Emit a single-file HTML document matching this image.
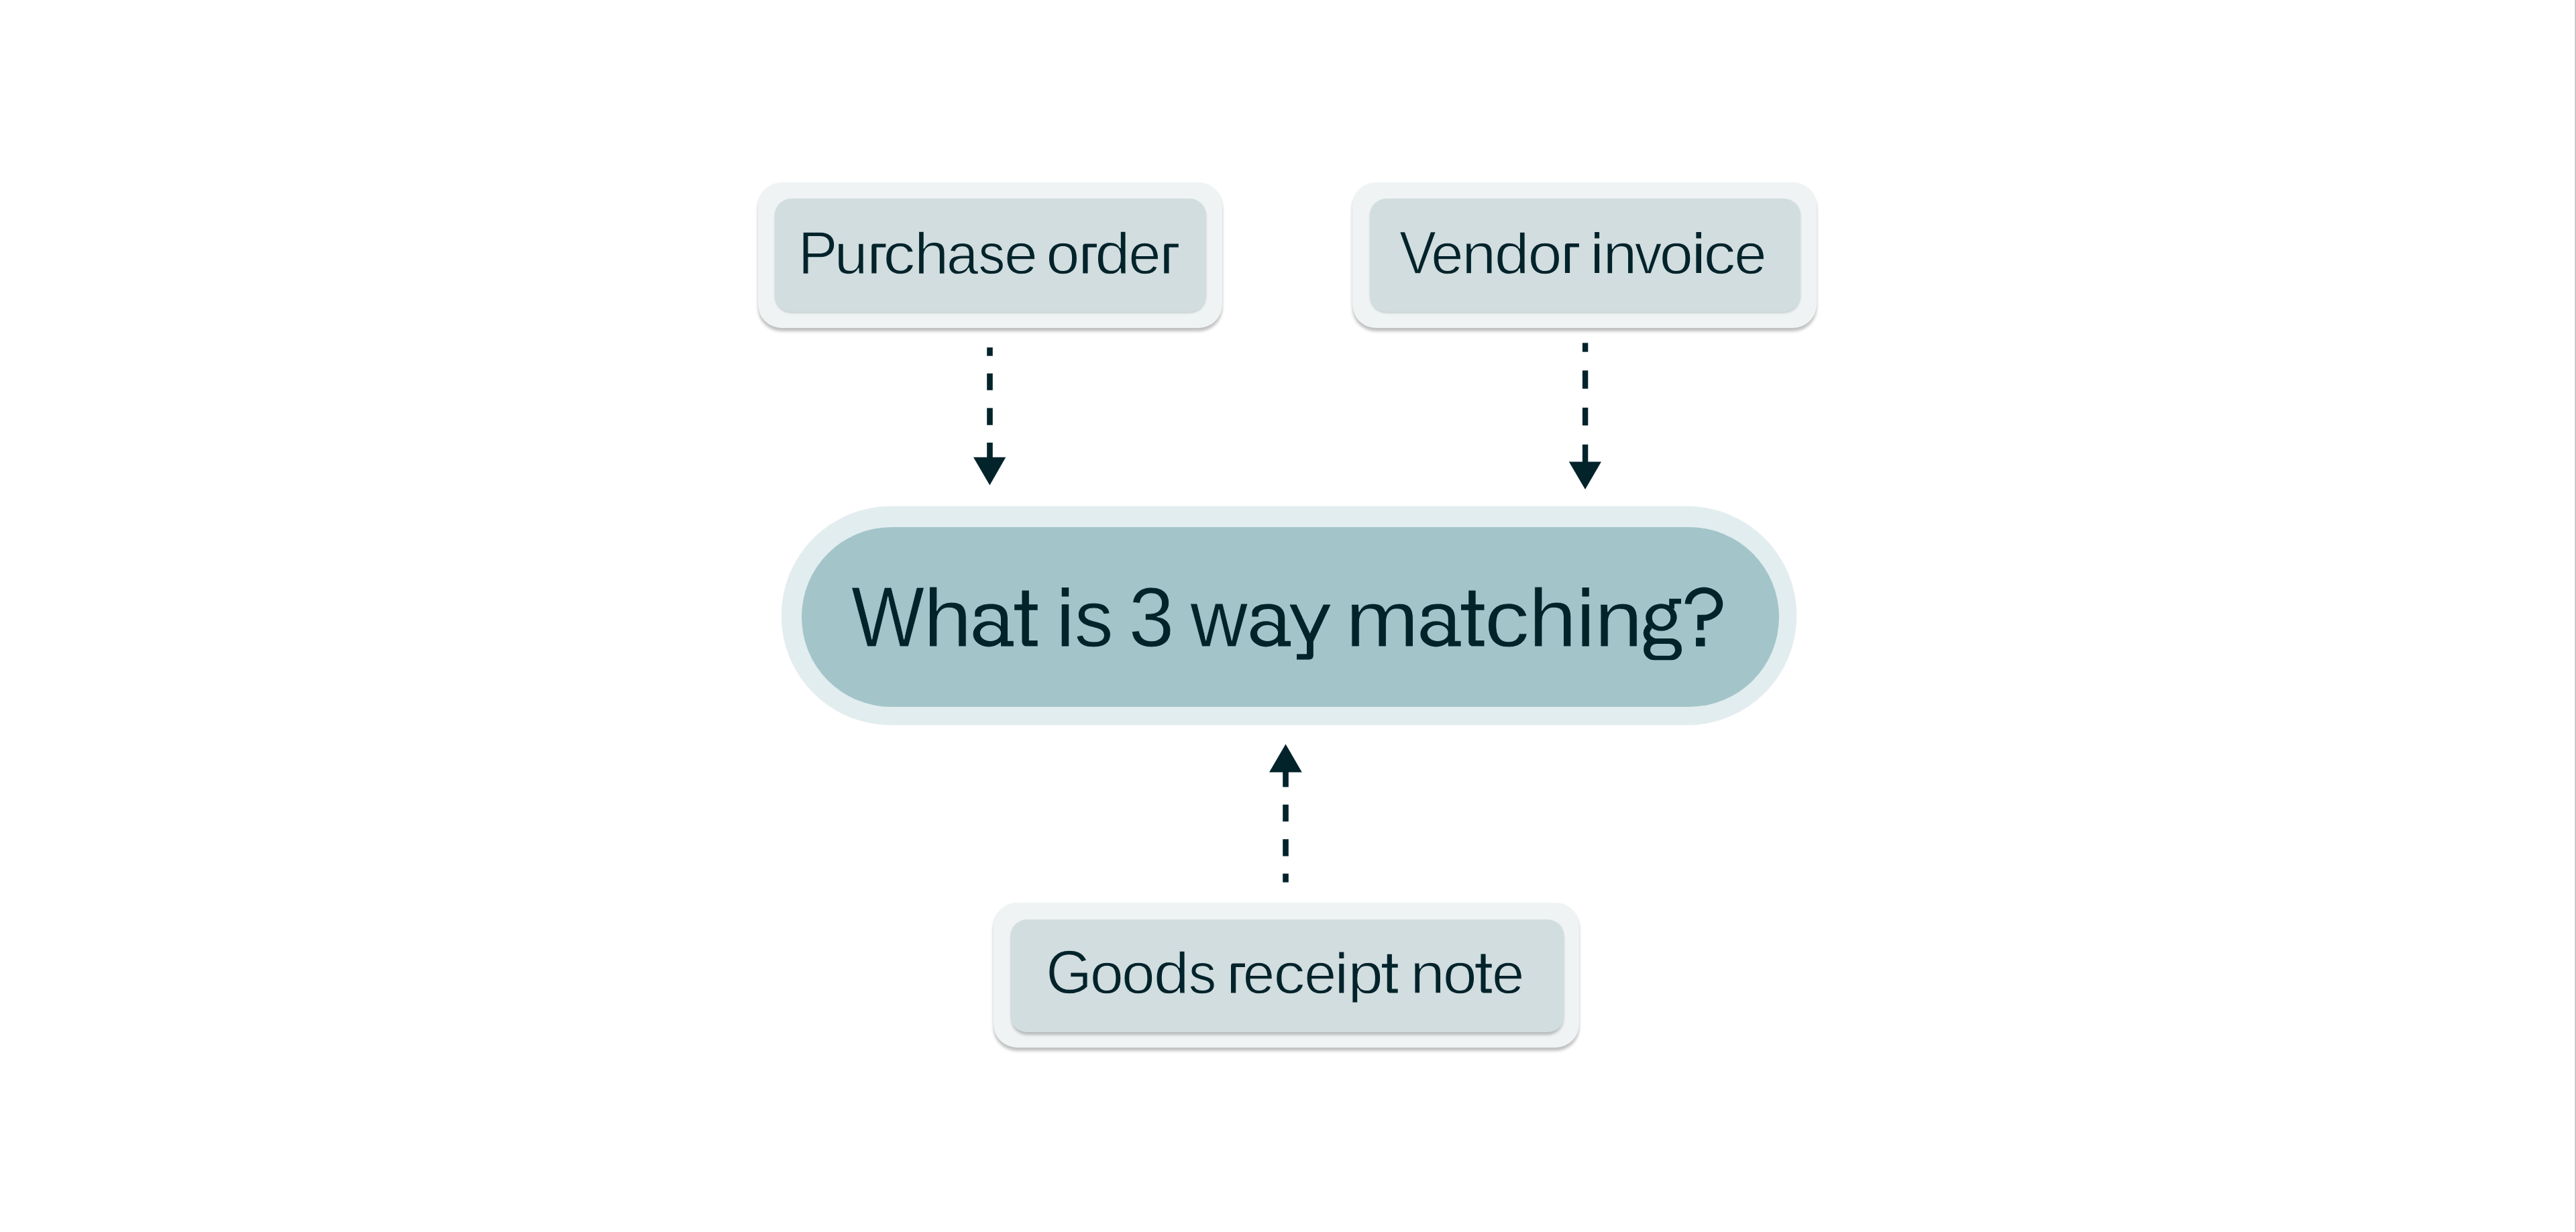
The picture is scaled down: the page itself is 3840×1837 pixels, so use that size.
<!DOCTYPE html>
<html><head><meta charset="utf-8">
<style>
html,body{margin:0;padding:0;background:#fff;}
body{width:3840px;height:1837px;position:relative;overflow:hidden;font-family:"Liberation Sans",sans-serif;}
.abs{position:absolute;}
.box-o{position:absolute;background:#EFF3F4;border-radius:35px;box-shadow:0 5px 4px rgba(0,0,0,0.25),0 0 1px rgba(0,0,0,0.06);}
.box-i{position:absolute;background:#D2DDDF;border-radius:25px;box-shadow:0 2px 3px rgba(0,30,40,0.17);}
.pill-o{position:absolute;background:#E2EDEF;box-shadow:0 0 1.5px rgba(0,0,0,0.10);}
.pill-i{position:absolute;background:#A3C5CA;}
.edge{position:absolute;right:0;top:0;width:2px;height:1837px;background:linear-gradient(to right,#dcdcdc,#b9b9b9);}
</style></head><body>
<div class="box-o" style="left:1130px;top:272px;width:692px;height:217px;"></div>
<div class="box-i" style="left:1155px;top:295.8px;width:643px;height:169.4px;"></div>
<div class="box-o" style="left:2016px;top:272px;width:692px;height:217px;"></div>
<div class="box-i" style="left:2042.2px;top:295.8px;width:641.5px;height:169.4px;"></div>
<div class="pill-o" style="left:1165px;top:755px;width:1512.5px;height:325.7px;border-radius:162.9px;"></div>
<div class="pill-i" style="left:1195px;top:786px;width:1456.5px;height:267.6px;border-radius:133.8px;"></div>
<div class="box-o" style="left:1481px;top:1346px;width:873.4px;height:216.3px;"></div>
<div class="box-i" style="left:1506px;top:1370.7px;width:826px;height:168.2px;box-shadow:0 6px 4px -2px rgba(0,0,0,0.24);"></div>
<svg class="abs" style="left:0;top:0" width="3840" height="1837" viewBox="0 0 3840 1837">
<defs><clipPath id="clip0" clipPathUnits="userSpaceOnUse"><rect x="1996.1" y="1280.5" width="81.2" height="214.1"/></clipPath></defs>
<g font-family="Liberation Sans" fill="#03232B">
<g font-size="120" stroke="#A3C5CA" stroke-width="0.9">
<text transform="translate(1269.07 964.05) scale(0.9626 1.0695)">W</text>
<text transform="translate(1376.59 964.05) scale(1.0821 1.0172)">h</text>
<path d="M1523.47,880.40 H1533.87 V901.20 H1546.70 V909.70 H1533.87 V955.10 H1546.70 V963.60 H1529.97 A6.5,6.5 0 0 1 1523.47,957.10 V909.70 H1512.20 V901.20 H1523.47 Z" stroke="none"/>
<rect x="1582.70" y="876.00" width="10.50" height="13.49" stroke="none"/>
<rect x="1582.70" y="901.14" width="10.50" height="62.46" stroke="none"/>
<text transform="translate(1601.71 964.05) scale(0.9633 1.0009)">s</text>
<text transform="translate(1682.62 964.05) scale(1.0162 1.0530)">3</text>
<text transform="translate(1774.47 964.05) scale(0.9828 1.0069)">w</text>
<text transform="translate(2005.79 964.05) scale(1.0937 0.9960)">m</text>
<path d="M2189.27,880.40 H2199.67 V901.20 H2212.50 V909.70 H2199.67 V955.10 H2212.50 V963.60 H2195.77 A6.5,6.5 0 0 1 2189.27,957.10 V909.70 H2178.00 V901.20 H2189.27 Z" stroke="none"/>
<text transform="translate(2212.81 964.05) scale(1.1188 0.9960)">c</text>
<text transform="translate(2278.69 964.05) scale(1.0703 1.0172)">h</text>
<rect x="2358.50" y="876.00" width="10.30" height="13.49" stroke="none"/>
<rect x="2358.50" y="901.14" width="10.30" height="62.46" stroke="none"/>
<text transform="translate(2376.94 964.05) scale(1.0745 0.9960)">n</text>
</g>
<g font-size="84" stroke="#D2DDDF" stroke-width="1.3">
<text transform="translate(1189.72 408.05) scale(1.0495 1.0763)">P</text>
<text transform="translate(1243.72 408.05) scale(1.0672 1.0169)">u</text>
<path d="M1299.30,407.40 V367.00 A3.5,3.5 0 0 1 1302.80,363.50 H1320.40 V368.80 H1306.50 V407.40 Z" stroke="none"/>
<text transform="translate(1316.53 408.05) scale(1.1381 1.0157)">c</text>
<text transform="translate(1362.89 408.05) scale(1.0974 1.0312)">h</text>
<text transform="translate(1411.07 408.05) scale(1.0145 1.0157)">a</text>
<text transform="translate(1458.42 408.05) scale(0.9475 1.0176)">s</text>
<text transform="translate(1496.89 408.05) scale(1.0664 1.0157)">e</text>
<text transform="translate(1559.48 408.05) scale(1.0694 1.0157)">o</text>
<path d="M1614.30,407.40 V367.00 A3.5,3.5 0 0 1 1617.80,363.50 H1634.90 V368.80 H1621.50 V407.40 Z" stroke="none"/>
<text transform="translate(1632.29 408.05) scale(1.1217 1.0312)">d</text>
<text transform="translate(1682.30 408.05) scale(1.0334 1.0157)">e</text>
<path d="M1735.30,407.40 V367.00 A3.5,3.5 0 0 1 1738.80,363.50 H1756.80 V368.80 H1742.50 V407.40 Z" stroke="none"/>
<text transform="translate(2086.04 407.65) scale(0.9803 1.0797)">V</text>
<text transform="translate(2133.20 407.65) scale(1.0334 1.0157)">e</text>
<text transform="translate(2179.31 407.65) scale(1.0896 1.0157)">n</text>
<text transform="translate(2227.63 407.65) scale(1.1111 1.0246)">d</text>
<text transform="translate(2277.50 407.65) scale(1.0921 1.0157)">o</text>
<path d="M2332.90,407.00 V366.60 A3.5,3.5 0 0 1 2336.40,363.10 H2353.90 V368.40 H2340.10 V407.00 Z" stroke="none"/>
<rect x="2377.10" y="346.00" width="7.00" height="9.39" stroke="none"/>
<rect x="2377.10" y="363.51" width="7.00" height="43.49" stroke="none"/>
<text transform="translate(2389.51 407.65) scale(1.0896 1.0157)">n</text>
<text transform="translate(2436.83 407.65) scale(0.9654 1.0169)">v</text>
<text transform="translate(2473.67 407.65) scale(1.0719 1.0157)">o</text>
<rect x="2528.40" y="346.00" width="7.60" height="9.39" stroke="none"/>
<rect x="2528.40" y="363.51" width="7.60" height="43.49" stroke="none"/>
<text transform="translate(2539.43 407.65) scale(1.1381 1.0157)">c</text>
<text transform="translate(2585.20 407.65) scale(1.0334 1.0157)">e</text>
<text transform="translate(1559.24 1481.15) scale(1.0501 1.0728)">G</text>
<text transform="translate(1624.67 1481.15) scale(1.0719 1.0135)">o</text>
<text transform="translate(1672.10 1481.15) scale(1.0618 1.0135)">o</text>
<text transform="translate(1719.65 1481.15) scale(1.1349 1.0263)">d</text>
<text transform="translate(1771.83 1481.15) scale(0.9884 1.0153)">s</text>
<path d="M1835.00,1480.50 V1440.10 A3.5,3.5 0 0 1 1838.50,1436.60 H1855.90 V1441.90 H1842.20 V1480.50 Z" stroke="none"/>
<text transform="translate(1852.87 1481.15) scale(1.0157 1.0135)">e</text>
<text transform="translate(1898.61 1481.15) scale(1.1161 1.0135)">c</text>
<text transform="translate(1944.33 1481.15) scale(1.0258 1.0135)">e</text>
<rect x="1996.30" y="1419.60" width="7.00" height="9.38" stroke="none"/>
<rect x="1996.30" y="1437.08" width="7.00" height="43.42" stroke="none"/>
<g clip-path="url(#clip0)"><text transform="translate(2009.30 1481.15) scale(1.1268 1.0153)">p</text></g>
<path d="M2067.77,1422.70 H2074.87 V1437.20 H2083.70 V1442.80 H2074.87 V1474.60 H2083.70 V1480.50 H2072.27 A4.5,4.5 0 0 1 2067.77,1476.00 V1442.80 H2060.00 V1437.20 H2067.77 Z" stroke="none"/>
<text transform="translate(2102.23 1481.15) scale(1.1036 1.0135)">n</text>
<text transform="translate(2150.71 1481.15) scale(1.0896 1.0135)">o</text>
<path d="M2207.50,1422.60 H2214.60 V1437.20 H2223.70 V1442.80 H2214.60 V1474.60 H2223.70 V1480.50 H2212.00 A4.5,4.5 0 0 1 2207.50,1476.00 V1442.80 H2199.60 V1437.20 H2207.50 Z" stroke="none"/>
<text transform="translate(2223.90 1481.15) scale(1.0360 1.0135)">e</text>
</g>
</g>
<g fill="#03232B">
<path d="M2511.7,900.6 A28.3,25.1 0 1 1 2540,925.7 L2539.7,925.7 L2539.7,939.6 L2530.2,939.6 L2530.2,916.8 L2540,916.8 A18.5,16 0 1 0 2521.5,900.8 Z"/><rect x="2528.1" y="950.9" width="13.4" height="12.8"/><path fill-rule="evenodd" d="M2453.20,920.55 A23.25,20.25 0 1 0 2499.70,920.55 A23.25,20.25 0 1 0 2453.20,920.55 Z M2462.80,920.80 A13.75,13.5 0 1 0 2490.30,920.80 A13.75,13.5 0 1 0 2462.80,920.80 Z"/><path fill-rule="evenodd" d="M2465.70,951.90 H2491.40 A15.5,15.5 0 0 1 2506.90,967.40 V968.80 A15.5,15.5 0 0 1 2491.40,984.30 H2465.70 A15.5,15.5 0 0 1 2450.20,968.80 V967.40 A15.5,15.5 0 0 1 2465.70,951.90 Z M2468.80,960.00 H2488.30 A8.8,8.8 0 0 1 2497.10,968.80 V968.90 A8.8,8.8 0 0 1 2488.30,977.70 H2468.80 A8.8,8.8 0 0 1 2460.00,968.90 V968.80 A8.8,8.8 0 0 1 2468.80,960.00 Z"/><path d="M2488.2,892.8 H2506 V900.3 H2496 V908 L2488.2,905 Z"/><path d="M2459.5,934 C2452.5,941 2451.5,951 2466,956.5" fill="none" stroke="#03232B" stroke-width="9.5"/><path d="M1922.4,901.4 L1932.6,901.4 L1952.7,944.5 L1972.8,901.4 L1983.4,901.4 L1957.8,956.5 L1957.8,977 Q1957.8,983.4 1951.4,983.4 L1933,983.4 L1933,975.3 L1948,975.3 L1948,956.5 Z"/><g transform="translate(-413.20 0)"><path d="M1866.5,919.6 V914 C1866.5,905 1877,900.4 1890.5,900.4 C1906,900.4 1915.2,907 1915.2,921 V960 H1905.2 V922 C1905.2,913 1900,907.9 1890.5,907.9 C1882,907.9 1876,911 1876,916 V919.6 Z"/><rect x="1905.4" y="955.8" width="18.6" height="7.8"/><path fill-rule="evenodd" d="M1863.80,945.40 A23.2,19 0 1 0 1910.20,945.40 A23.2,19 0 1 0 1863.80,945.40 Z M1874.10,944.00 A15.55,11.9 0 1 0 1905.20,944.00 A15.55,11.9 0 1 0 1874.10,944.00 Z"/></g><g transform="translate(0.00 0)"><path d="M1866.5,919.6 V914 C1866.5,905 1877,900.4 1890.5,900.4 C1906,900.4 1915.2,907 1915.2,921 V960 H1905.2 V922 C1905.2,913 1900,907.9 1890.5,907.9 C1882,907.9 1876,911 1876,916 V919.6 Z"/><rect x="1905.4" y="955.8" width="18.6" height="7.8"/><path fill-rule="evenodd" d="M1863.80,945.40 A23.2,19 0 1 0 1910.20,945.40 A23.2,19 0 1 0 1863.80,945.40 Z M1874.10,944.00 A15.55,11.9 0 1 0 1905.20,944.00 A15.55,11.9 0 1 0 1874.10,944.00 Z"/></g><g transform="translate(253.60 0)"><path d="M1866.5,919.6 V914 C1866.5,905 1877,900.4 1890.5,900.4 C1906,900.4 1915.2,907 1915.2,921 V960 H1905.2 V922 C1905.2,913 1900,907.9 1890.5,907.9 C1882,907.9 1876,911 1876,916 V919.6 Z"/><rect x="1905.4" y="955.8" width="18.6" height="7.8"/><path fill-rule="evenodd" d="M1863.80,945.40 A23.2,19 0 1 0 1910.20,945.40 A23.2,19 0 1 0 1863.80,945.40 Z M1874.10,944.00 A15.55,11.9 0 1 0 1905.20,944.00 A15.55,11.9 0 1 0 1874.10,944.00 Z"/></g>
<rect x="1471.2" y="518.1" width="8.6" height="12.6"/>
<rect x="1471.2" y="556.8" width="8.6" height="25"/>
<rect x="1471.2" y="608.4" width="8.6" height="25.4"/>
<rect x="1471.2" y="660" width="8.6" height="24"/>
<polygon points="1451,681.8 1499.3,681.8 1475.4,723.6"/>
<rect x="2358.9" y="511.3" width="8.4" height="13.4"/>
<rect x="2358.9" y="552.4" width="8.4" height="27.2"/>
<rect x="2358.9" y="607.8" width="8.4" height="26.6"/>
<rect x="2358.9" y="662.8" width="8.4" height="28"/>
<polygon points="2338.8,688.4 2387,688.4 2363,729.8"/>
<polygon points="1892,1151.6 1940.8,1151.6 1916.5,1109.6"/>
<rect x="1912.2" y="1149" width="8.6" height="24.5"/>
<rect x="1912.2" y="1199.7" width="8.6" height="25.2"/>
<rect x="1912.2" y="1251.3" width="8.6" height="25.3"/>
<rect x="1912.2" y="1302.6" width="8.6" height="13"/>
</g>
</svg>
<div class="edge"></div>
</body></html>
